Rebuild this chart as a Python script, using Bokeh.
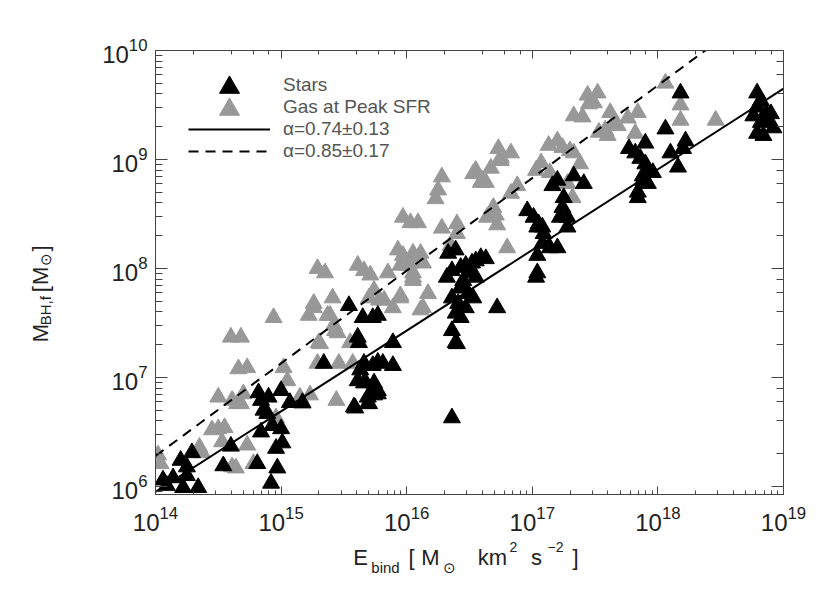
import numpy as np
from bokeh.plotting import figure
from bokeh.layouts import row, column
from bokeh.models import LogAxis, Legend, LegendItem, Range1d, CustomJSTickFormatter
from bokeh.core.properties import value
from bokeh.embed import file_html
from bokeh.resources import INLINE

# ---------------- data (log10 values) ----------------
stars_logE = [14.09, 14.14, 14.20, 14.25, 14.25, 14.22, 14.34, 14.29, 14.06, 14.60,
              14.54, 14.81, 14.84, 14.92, 14.97, 14.96, 15.01, 15.00, 14.93, 14.86,
              14.84, 14.82, 14.90, 15.00, 15.07, 15.17, 14.89, 15.34, 15.58, 15.61,
              15.66, 15.69, 15.70, 15.74, 15.77, 15.66, 15.77, 15.73, 15.81, 15.89,
              15.89, 15.61, 15.62, 15.54, 15.65, 15.73, 15.77, 15.63, 15.67, 15.74,
              15.71, 15.77, 15.69, 15.59, 16.33, 16.39, 16.32, 16.36, 16.43, 16.47,
              16.52, 16.59, 16.63, 16.51, 16.55, 16.45, 16.44, 16.49, 16.53, 16.36,
              16.41, 16.47, 16.39, 16.43, 16.36, 16.39, 16.72, 16.96, 17.01, 17.04,
              17.04, 17.03, 16.36, 16.43, 16.40, 17.16, 17.20, 17.33, 17.41, 17.25,
              17.24, 17.28, 17.22, 17.28, 17.05, 17.08, 17.09, 17.08, 17.14, 17.20,
              17.04, 16.55, 18.18, 18.06, 17.77, 17.90, 17.82, 17.86, 17.90, 17.92,
              17.96, 17.88, 17.88, 17.92, 17.84, 17.84, 18.10, 18.22, 18.20, 18.16,
              18.79, 18.82, 18.79, 18.76, 18.86, 18.90, 18.87, 18.92, 18.79, 18.84,
              18.82]
stars_logM = [6.01, 6.08, 6.24, 6.18, 6.10, 5.99, 5.99, 6.31, 6.06, 6.37,
              6.19, 6.21, 6.50, 6.03, 6.17, 6.35, 6.40, 6.53, 6.56, 6.70,
              6.79, 6.86, 6.82, 6.88, 6.77, 6.77, 6.67, 7.13, 6.73, 6.97,
              6.95, 6.82, 6.76, 6.84, 6.88, 7.13, 7.14, 7.11, 7.13, 7.11,
              7.32, 7.37, 7.32, 7.66, 7.55, 7.55, 7.57, 7.07, 6.96, 6.95,
              6.85, 6.85, 6.76, 6.72, 8.14, 8.17, 7.92, 7.98, 8.01, 8.03,
              8.05, 8.10, 8.09, 7.96, 7.92, 7.89, 7.82, 7.77, 7.73, 7.73,
              7.68, 7.64, 7.59, 7.55, 7.43, 7.32, 7.64, 8.53, 8.47, 8.38,
              8.12, 7.92, 6.63, 7.83, 7.31, 8.76, 8.81, 8.85, 8.78, 8.65,
              8.56, 8.47, 8.47, 8.38, 8.41, 8.38, 8.32, 8.23, 8.19, 8.19,
              7.96, 8.07, 9.61, 9.28, 9.10, 9.15, 9.06, 9.01, 8.96, 8.90,
              8.88, 8.85, 8.81, 8.78, 8.70, 8.65, 9.06, 9.17, 9.10, 8.93,
              9.61, 9.54, 9.48, 9.40, 9.43, 9.42, 9.36, 9.29, 9.24, 9.22,
              9.34]

gas_logE = [14.02, 14.04, 14.35, 14.37, 14.45, 14.50, 14.55, 14.53, 14.61, 14.64,
            14.65, 14.68, 14.50, 14.61, 14.66, 14.73, 14.60, 14.68, 14.70, 14.73,
            14.78, 14.96, 15.02, 15.05, 14.94, 15.15, 15.17, 15.23, 15.44, 15.29,
            15.46, 15.26, 15.39, 15.42, 15.30, 15.43, 15.57, 15.22, 15.31, 15.29,
            15.35, 15.61, 15.66, 15.71, 15.85, 15.93, 15.97, 16.05, 16.07, 16.01,
            16.05, 15.26, 15.41, 15.37, 15.45, 15.55, 15.74, 15.78, 15.70, 15.89,
            15.95, 16.11, 16.28, 16.25, 16.23, 16.53, 16.59, 16.63, 16.67, 16.75,
            17.03, 16.88, 16.83, 15.97, 16.03, 16.09, 16.28, 16.40, 16.40, 16.69,
            16.64, 16.72, 16.80, 16.11, 15.95, 16.03, 16.13, 16.05, 16.05, 16.17,
            16.13, 15.95, 15.82, 16.35, 17.44, 17.52, 17.45, 17.49, 17.33, 17.40,
            17.62, 17.68, 17.58, 17.60, 17.53, 17.13, 17.20, 17.24, 17.30, 17.07,
            17.14, 17.33, 17.38, 17.28, 17.32, 16.73, 16.83, 16.75, 16.55, 16.60,
            16.71, 18.06, 18.18, 18.18, 18.46, 17.84, 17.76, 17.65, 17.82]
gas_logM = [6.29, 6.21, 6.36, 6.31, 6.52, 6.53, 6.54, 6.41, 6.18, 6.17,
            6.76, 6.76, 6.82, 6.79, 7.08, 7.09, 7.37, 7.37, 6.85, 6.38,
            6.21, 6.63, 7.09, 6.97, 7.55, 6.82, 6.76, 6.84, 6.79, 7.13,
            7.13, 7.64, 7.57, 7.48, 7.32, 7.43, 7.13, 7.57, 7.31, 8.00,
            7.96, 8.03, 7.98, 7.94, 7.96, 8.17, 8.12, 8.14, 8.09, 8.03,
            7.92, 7.68, 7.73, 7.57, 7.41, 7.32, 7.80, 7.71, 7.73, 7.64,
            7.73, 7.62, 8.84, 8.72, 8.64, 8.87, 8.79, 8.79, 8.92, 8.99,
            8.90, 8.76, 8.69, 8.47, 8.42, 8.42, 8.37, 8.41, 8.32, 8.56,
            8.47, 8.40, 8.19, 8.14, 8.03, 8.05, 8.05, 7.96, 7.89, 7.77,
            7.64, 7.75, 7.71, 8.21, 9.59, 9.61, 9.51, 9.52, 9.40, 9.39,
            9.43, 9.31, 9.27, 9.22, 9.25, 9.13, 9.17, 9.11, 9.08, 8.97,
            8.88, 9.06, 8.96, 8.78, 8.65, 9.10, 9.06, 9.02, 8.90, 8.81,
            8.49, 9.70, 9.50, 9.36, 9.36, 9.43, 9.38, 9.34, 9.24]

series_labels = ["Stars", "Gas at Peak SFR"]
fit_labels = ["\u03b1=0.74\u00b10.13", "\u03b1=0.85\u00b10.17"]
fit_slope = [0.74, 0.85]
fit_logM_at_1e14 = [5.95, 6.28]
fit_dash = ["solid", "10 7"]

x_lim = (1e14, 1e19)
y_lim = (8.45e5, 1e10)

# axis-title pieces: (text, role) ; role: main / sub / sup
xtitle_pieces = [("E", "main"), ("bind", "sub"), ("[", "main"), ("M", "main"),
                 ("\u2299", "sub"), ("km", "main"), ("2", "sup"), ("s", "main"),
                 ("\u22122", "sup"), ("]", "main")]
ytitle_pieces = [("M", "main"), ("BH,f", "sub"), ("[", "main"), ("M", "main"),
                 ("\u2299", "sub"), ("]", "main")]

# ---------------- layout constants ----------------
FONT = "Liberation Sans"
AX = "#444444"
TC = "#222222"
GRAY = "#989898"
TOTAL_W, TOTAL_H = 822, 585
YT_W = 60            # strip for the y title
XT_H = 51            # strip for the x title
W, H = TOTAL_W - YT_W, TOTAL_H - XT_H
ML, MR, MT, MB = 155 - YT_W, 39, 50, 40
FW, FH = W - ML - MR, H - MT - MB


def frame_to_data(dx, dy):
    """pixel offset from the frame's bottom-left -> data coordinates (log axes)"""
    lx0, lx1 = np.log10(x_lim)
    ly0, ly1 = np.log10(y_lim)
    return (10 ** (lx0 + dx / FW * (lx1 - lx0)),
            10 ** (ly0 + dy / FH * (ly1 - ly0)))


p = figure(width=W, height=H, x_axis_type="log", y_axis_type="log",
           x_range=Range1d(*x_lim), y_range=Range1d(*y_lim),
           output_backend="svg", toolbar_location=None,
           min_border_left=ML, min_border_right=MR,
           min_border_top=MT, min_border_bottom=MB)
p.xgrid.visible = False
p.ygrid.visible = False
p.outline_line_color = None
p.background_fill_color = "white"
p.border_fill_color = "white"


def style_axis(ax, major_in, minor_in, labels=True):
    ax.axis_line_color = AX
    ax.major_tick_line_color = AX
    ax.minor_tick_line_color = AX
    ax.major_tick_in = major_in
    ax.major_tick_out = 0
    ax.minor_tick_in = minor_in
    ax.minor_tick_out = 0
    if labels:
        ax.major_label_text_font = FONT
        ax.major_label_text_font_size = "24px"
        ax.major_label_text_color = TC
    else:
        ax.formatter = CustomJSTickFormatter(code="return ''")
        ax.major_label_standoff = 0


style_axis(p.xaxis[0], 8, 4)
style_axis(p.yaxis[0], 12, 7)
p.xaxis[0].major_label_standoff = 11
p.yaxis[0].major_label_standoff = 8

top_axis = LogAxis()
style_axis(top_axis, 8, 4, labels=False)
p.add_layout(top_axis, "above")
right_axis = LogAxis()
style_axis(right_axis, 12, 7, labels=False)
p.add_layout(right_axis, "right")

r_gas = p.scatter(x=10 ** np.array(gas_logE), y=10 ** np.array(gas_logM),
                  marker="triangle", size=17, fill_color=GRAY, line_color=GRAY)
r_stars = p.scatter(x=10 ** np.array(stars_logE), y=10 ** np.array(stars_logM),
                    marker="triangle", size=17, fill_color="black", line_color="black")

xfit = np.array(x_lim)
fit_renderers = []
for slope, norm, dash in zip(fit_slope, fit_logM_at_1e14, fit_dash):
    yfit = 10 ** (norm + slope * (np.log10(xfit) - 14))
    fit_renderers.append(p.line(xfit, yfit, line_color="black",
                                line_width=2, line_dash=dash))

# ---------------- legend ----------------
ROW = 22
legend = Legend(items=[LegendItem(label=series_labels[0], renderers=[r_stars]),
                       LegendItem(label=series_labels[1], renderers=[r_gas]),
                       LegendItem(label=fit_labels[0], renderers=[fit_renderers[0]]),
                       LegendItem(label=fit_labels[1], renderers=[fit_renderers[1]])],
                location=(33, FH - 24 - 4 * ROW), glyph_width=82, glyph_height=ROW,
                label_height=ROW, spacing=0, padding=0, margin=0, label_standoff=13,
                label_text_font=FONT, label_text_font_size="19px",
                label_text_color="#555555", background_fill_alpha=0,
                border_line_color=None)
p.add_layout(legend)

# larger legend keys (the reference draws them at full marker size)
kx, ky1 = frame_to_data(74, FH - 37)
_, ky2 = frame_to_data(74, FH - 59)
p.scatter(x=[kx], y=[ky1], marker="triangle", size=20, fill_color="black", line_color="black")
p.scatter(x=[kx], y=[ky2], marker="triangle", size=20, fill_color=GRAY, line_color=GRAY)

# ---------------- title strips (pixel coordinates inside each strip) ----------------
SIZES = {"main": "22px", "sub": "15px", "sup": "14px"}


def strip(width, height):
    f = figure(width=width, height=height, x_range=Range1d(0, width),
               y_range=Range1d(0, height), output_backend="svg",
               toolbar_location=None, x_axis_location=None, y_axis_location=None,
               min_border=0)
    f.xgrid.visible = False
    f.ygrid.visible = False
    f.outline_line_color = None
    f.background_fill_color = "white"
    f.border_fill_color = "white"
    return f


def draw_pieces(f, pieces, xs, ys, angle):
    for (txt, role), x, y in zip(pieces, xs, ys):
        f.text(x=[x], y=[y], text=[txt], angle=angle, text_font=value(FONT),
               text_font_size=value(SIZES[role]), text_color=TC,
               text_align="center", text_baseline="alphabetic")


# x title strip: below the main figure (piece centres along the line)
xt = strip(TOTAL_W, XT_H)
draw_pieces(xt, xtitle_pieces,
            [360, 385, 411, 430, 449, 492, 513, 536, 555, 575],
            [28, 18, 28, 28, 18, 28, 39, 28, 39, 28], 0.0)

# y title strip: left of the main figure (piece centres along the rotated line)
yt = strip(YT_W, H)
draw_pieces(yt, ytitle_pieces,
            [40, 45, 40, 40, 45, 40],
            [194, 221, 247, 263, 283, 296], np.pi / 2)

layout = column(row(yt, p), xt)
open("out.html", "w").write(file_html(layout, INLINE))
